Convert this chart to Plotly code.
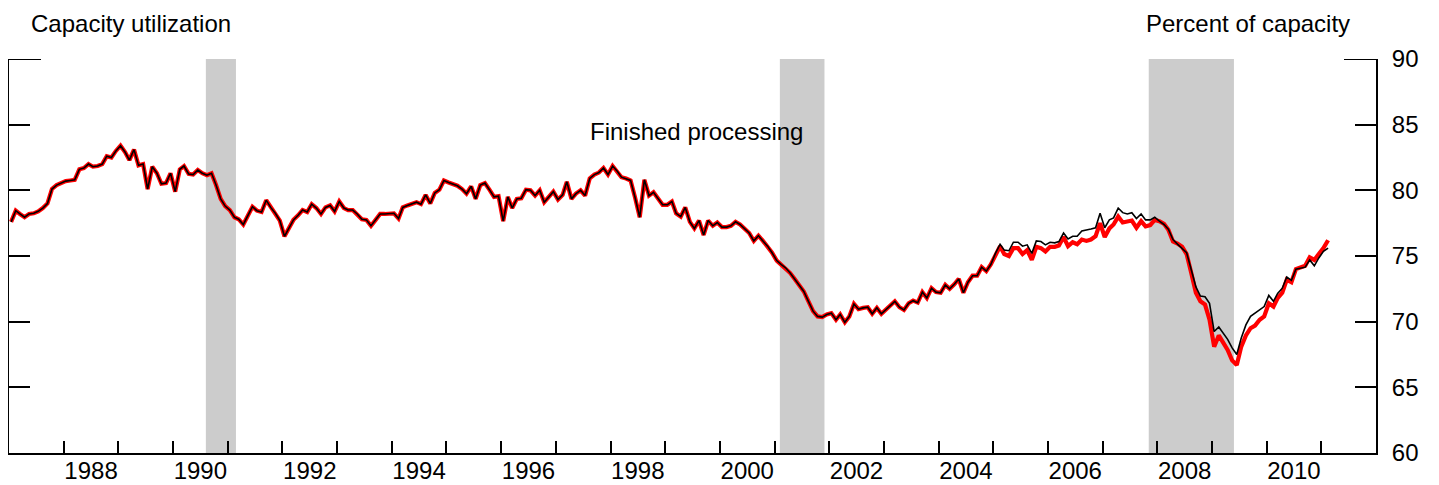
import pandas as pd
import plotly.graph_objects as go

# Capacity utilization, finished processing (percent of capacity), monthly from Jan 1987
current_rate = [
    77.6, 78.45, 78.2, 77.95, 78.2, 78.25, 78.4, 78.65, 79.0, 80.1, 80.4, 80.55,      # 1987
    80.7, 80.75, 80.8, 81.6, 81.7, 82.0, 81.8, 81.85, 82.0, 82.6, 82.5, 83.0,        # 1988
    83.4, 82.9, 82.3, 83.1, 81.9, 82.0, 80.1, 81.8, 81.3, 80.5, 80.55, 81.3,         # 1989
    79.9, 81.6, 81.85, 81.25, 81.2, 81.55, 81.3, 81.15, 81.3, 80.4, 79.35, 78.8,     # 1990
    78.5, 77.95, 77.8, 77.4, 78.1, 78.75, 78.45, 78.35, 79.25, 78.7, 78.25, 77.7,    # 1991
    76.5, 77.2, 77.75, 78.1, 78.5, 78.35, 78.95, 78.65, 78.2, 78.7, 78.85, 78.4,     # 1992
    79.15, 78.65, 78.5, 78.5, 78.2, 77.8, 77.75, 77.3, 77.75, 78.2, 78.2, 78.2,      # 1993
    78.25, 77.85, 78.7, 78.85, 78.95, 79.1, 78.95, 79.65, 79.0, 79.8, 80.05, 80.75,  # 1994
    80.6, 80.45, 80.35, 80.1, 79.75, 80.3, 79.35, 80.4, 80.55, 80.05, 79.5, 79.55,   # 1995
    77.65, 79.5, 78.65, 79.35, 79.4, 80.05, 80.0, 79.6, 80.0, 79.1, 79.5, 79.9,      # 1996
    79.3, 79.65, 80.65, 79.35, 79.75, 80.0, 79.6, 80.9, 81.2, 81.35, 81.7, 81.2,     # 1997
    81.85, 81.45, 81.0, 80.9, 80.75, 79.4, 77.95, 80.8, 79.6, 79.85, 79.35, 78.9,    # 1998
    78.9, 79.15, 78.25, 78.0, 78.7, 77.6, 77.1, 77.7, 76.6, 77.7, 77.3, 77.55,       # 1999
    77.2, 77.2, 77.3, 77.6, 77.4, 77.05, 76.75, 76.15, 76.55, 76.15, 75.75, 75.25,   # 2000
    74.65, 74.35, 74.1, 73.7, 73.25, 72.8, 72.3, 71.55, 70.8, 70.4, 70.35, 70.55,    # 2001
    70.65, 70.15, 70.55, 69.95, 70.4, 71.35, 70.95, 71.05, 71.1, 70.6, 71.05, 70.6,  # 2002
    70.95, 71.3, 71.55, 71.1, 70.9, 71.4, 71.6, 71.45, 72.25, 71.8, 72.55, 72.25,    # 2003
    72.2, 72.8, 72.5, 72.85, 73.25, 72.2, 73.0, 73.5, 73.5, 74.15, 73.85, 74.35,     # 2004
    75.0, 75.75, 75.15, 75.0, 75.6, 75.6, 75.15, 75.45, 74.7, 75.7, 75.6, 75.35,     # 2005
    75.7, 75.7, 75.8, 76.45, 75.75, 76.05, 75.9, 76.25, 76.15, 76.25, 76.5, 77.5,    # 2006
    76.45, 77.1, 77.4, 78.0, 77.55, 77.6, 77.7, 77.15, 77.65, 77.25, 77.35, 77.75,   # 2007
    77.65, 77.45, 77.0, 76.1, 75.95, 75.7, 75.15, 73.7, 72.2, 71.55, 71.3, 70.15,    # 2008
    68.1, 68.95, 68.4, 67.85, 67.05, 66.7, 68.1, 68.95, 69.5, 69.7, 70.15, 70.4,     # 2009
    71.4, 71.15, 71.8, 72.2, 73.2, 73.0, 74.0, 74.15, 74.25, 74.9, 74.7, 75.15,      # 2010
    75.6, 76.2,                                                                      # 2011
]

# previous estimate: same as current through 2004, then differs
previous_2005_on = [
    75.2, 75.9, 75.45, 75.4, 76.05, 76.05, 75.75, 75.85, 75.2, 76.15, 76.1, 75.85,   # 2005
    76.05, 76.0, 76.1, 76.75, 76.3, 76.5, 76.5, 76.9, 76.95, 77.05, 77.15, 78.25,    # 2006
    77.15, 77.75, 77.9, 78.65, 78.3, 78.2, 78.3, 77.85, 78.2, 77.75, 77.75, 77.95,   # 2007
    77.65, 77.4, 77.05, 76.25, 75.9, 75.6, 75.25, 73.95, 72.65, 71.95, 71.9, 71.4,   # 2008
    69.25, 69.6, 69.15, 68.65, 68.0, 67.5, 68.75, 69.75, 70.4, 70.65, 70.9, 71.15,   # 2009
    72.0, 71.55, 72.15, 72.55, 73.4, 73.15, 74.0, 74.1, 74.15, 74.7, 74.25, 74.85,   # 2010
    75.35, 75.6,                                                                     # 2011
]
n_same = len(current_rate) - len(previous_2005_on)
previous_rate = current_rate[:n_same] + previous_2005_on

recession_start = ["1990-08-08", "2001-02-05", "2007-11-05"]
recession_end = ["1991-02-25", "2001-11-30", "2009-05-27"]

label_years = [1988, 1990, 1992, 1994, 1996, 1998, 2000, 2002, 2004, 2006, 2008, 2010]
tick_years = list(range(1988, 2012))
y_ticks = [60, 65, 70, 75, 80, 85, 90]

months = pd.date_range("1987-01-01", periods=len(current_rate), freq="MS") + pd.Timedelta(days=14)

FONT = "Liberation Sans, Arial, sans-serif"
W, H = 1431, 477          # the page body has an 8px margin, so the figure is 8px smaller each way
M = dict(l=1, r=63, t=51, b=32)
plot_w = W - M["l"] - M["r"]
top_tick = 32 / plot_w    # the 90 ticks are longer, like a bracket

fig = go.Figure()
fig.add_trace(go.Scatter(x=months, y=current_rate, mode="lines",
                         line=dict(color="#ff0000", width=4.2), showlegend=False))
fig.add_trace(go.Scatter(x=months, y=previous_rate, mode="lines",
                         line=dict(color="black", width=1.6), showlegend=False))

for s, e in zip(recession_start, recession_end):
    fig.add_vrect(x0=s, x1=e, fillcolor="#cccccc", opacity=1, line_width=0, layer="below")

for x0, x1 in [(0, top_tick), (1 - top_tick, 1)]:
    fig.add_shape(type="line", xref="paper", yref="y", x0=x0, x1=x1,
                  y0=y_ticks[-1], y1=y_ticks[-1], line=dict(color="black", width=2))

fig.add_annotation(text="Capacity utilization", xref="paper", yref="paper", x=0.0145, y=1.091,
                   xanchor="left", yanchor="middle", showarrow=False, font=dict(size=24))
fig.add_annotation(text="Percent of capacity", xref="paper", yref="paper", x=0.9825, y=1.091,
                   xanchor="right", yanchor="middle", showarrow=False, font=dict(size=24))
fig.add_annotation(text="Finished processing", xref="paper", yref="paper", x=0.5026, y=0.817,
                   xanchor="center", yanchor="middle", showarrow=False, font=dict(size=24))

fig.update_layout(
    width=W, height=H,
    margin=M,
    plot_bgcolor="white", paper_bgcolor="white",
    font=dict(family=FONT, size=24, color="black"),
    xaxis=dict(
        type="date", range=["1987-01-01", "2012-01-01"], automargin=False,
        showline=True, linecolor="black", linewidth=2,
        showgrid=False, zeroline=False,
        tickmode="array",
        tickvals=[f"{y}-07-02" for y in label_years],
        ticktext=[str(y) for y in label_years],
        ticks="", ticklabelstandoff=-5,
        minor=dict(tickmode="array", tickvals=[f"{y}-01-01" for y in tick_years],
                   ticks="inside", ticklen=12, tickwidth=2, tickcolor="black", showgrid=False),
    ),
    yaxis=dict(
        range=[60, 90], side="right", automargin=False,
        showline=True, linecolor="black", linewidth=2, mirror="ticks",
        showgrid=False, zeroline=False,
        tickmode="array", tickvals=y_ticks,
        ticks="inside", ticklen=21, tickwidth=2, tickcolor="black",
        ticklabelstandoff=9,
    ),
)

fig.write_html("out.html")
